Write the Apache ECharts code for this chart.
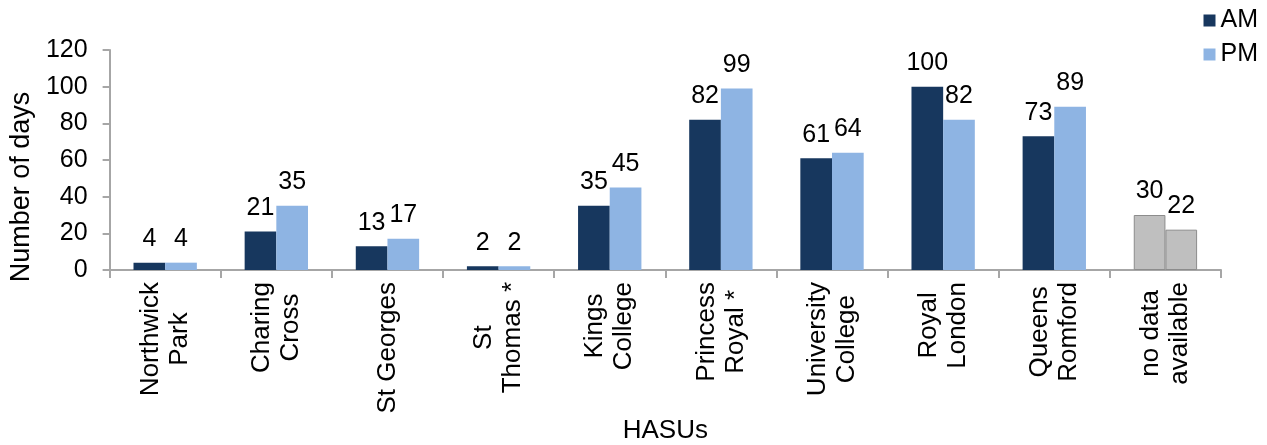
<!DOCTYPE html>
<html>
<head>
<meta charset="utf-8">
<script src="https://cdn.jsdelivr.net/npm/echarts@6/dist/echarts.min.js"></script>
<style>
  html, body { margin: 0; padding: 0; background: #fff; }
  #chart { width: 1267px; height: 445px; }
</style>
</head>
<body>
<div id="chart"></div>
<script>
// HASU categories and days per period
const hasus = ['Northwick\nPark', 'Charing\nCross', 'St Georges', 'St\nThomas *', 'Kings\nCollege',
  'Princess\nRoyal *', 'University\nCollege', 'Royal\nLondon', 'Queens\nRomford', 'no data\navailable'];
const amDays = [4, 21, 13, 2, 35, 82, 61, 100, 73, 30];
const pmDays = [4, 35, 17, 2, 45, 99, 64, 82, 89, 22];
const noDataCat = 'no data\navailable';
const yTicks = { min: 0, max: 120, step: 20 };

const font = 'Liberation Sans, Arial, sans-serif';
const grey = { color: '#bfbfbf', borderColor: '#8c8c8c', borderWidth: 1 };

function toData(vals) {
  return vals.map((v, i) => hasus[i] === noDataCat ? { value: v, itemStyle: grey } : v);
}

const chart = echarts.init(document.getElementById('chart'));
chart.setOption({
  animation: false,
  textStyle: { fontFamily: font },
  grid: { left: 103, right: 46, top: 50, bottom: 175 },
  legend: {
    orient: 'vertical',
    right: 4,
    top: 3,
    icon: 'rect',
    itemWidth: 12,
    itemHeight: 12,
    itemGap: 9,
    textStyle: { fontSize: 25, color: '#000', fontFamily: font },
    data: ['AM', 'PM']
  },
  xAxis: {
    type: 'category',
    data: hasus,
    name: 'HASUs',
    nameLocation: 'middle',
    nameGap: 145,
    nameTextStyle: { fontSize: 26, color: '#000' },
    axisLine: { lineStyle: { color: '#a6a6a6', width: 2 } },
    axisTick: { show: true, length: 8, lineStyle: { color: '#a6a6a6', width: 2 } },
    axisLabel: {
      rotate: 90,
      interval: 0,
      margin: 12,
      color: '#000',
      // centre each line of a wrapped label, like Excel does
      formatter: v => v.split('\n').map(l => '{c|' + l + '}').join('\n'),
      rich: {
        c: { align: 'center', fontSize: 26, lineHeight: 29, color: '#000', fontFamily: font }
      }
    }
  },
  yAxis: {
    type: 'value',
    min: yTicks.min,
    max: yTicks.max,
    interval: yTicks.step,
    name: 'Number of days',
    nameLocation: 'middle',
    nameGap: 72,
    nameTextStyle: { fontSize: 27, color: '#000', padding: [0, 54, 0, 0] },
    axisLine: { show: true, lineStyle: { color: '#a6a6a6', width: 2 } },
    axisTick: { show: true, length: 7, lineStyle: { color: '#a6a6a6', width: 2 } },
    axisLabel: { fontSize: 25, color: '#000', margin: 22 },
    splitLine: { show: false }
  },
  series: [
    {
      name: 'AM',
      type: 'bar',
      data: toData(amDays),
      itemStyle: { color: '#17375e' },
      barGap: '0%',
      barCategoryGap: '43%',
      label: { show: true, position: 'top', distance: 11, fontSize: 25, color: '#000' }
    },
    {
      name: 'PM',
      type: 'bar',
      data: toData(pmDays),
      itemStyle: { color: '#8eb4e3' },
      label: { show: true, position: 'top', distance: 11, fontSize: 25, color: '#000' }
    }
  ]
});
</script>
</body>
</html>
